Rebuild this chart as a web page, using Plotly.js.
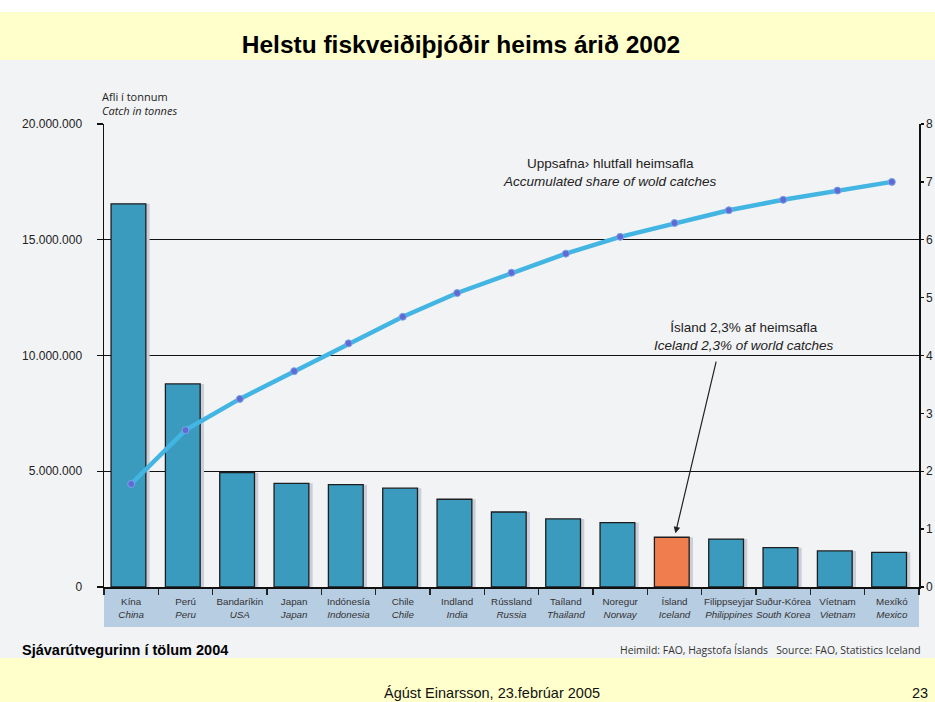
<!DOCTYPE html>
<html>
<head>
<meta charset="utf-8">
<script src="https://cdn.plot.ly/plotly-3.0.1.min.js"></script>
<style>
  html, body { margin: 0; padding: 0; background: #ffffff; }
  #chart { width: 935px; height: 702px; }
</style>
</head>
<body>
<div id="chart"></div>
<script>
// ---- data ----
const countriesIs = ["Kína","Perú","Bandaríkin","Japan","Indónesía","Chile","Indland","Rússland","Taíland","Noregur","Ísland","Filippseyjar","Suður-Kórea","Víetnam","Mexíkó"];
const countriesEn = ["China","Peru","USA","Japan","Indonesia","Chile","India","Russia","Thailand","Norway","Iceland","Philippines","South Korea","Vietnam","Mexico"];
const catchTonnes = [16550000, 8770000, 4940000, 4480000, 4420000, 4270000, 3790000, 3240000, 2940000, 2780000, 2150000, 2070000, 1700000, 1560000, 1500000];
const cumulativeShare = [17.8, 27.1, 32.5, 37.3, 42.1, 46.7, 50.8, 54.3, 57.6, 60.5, 62.9, 65.1, 66.9, 68.5, 70.0];
const leftTickVals = [0, 5000000, 10000000, 15000000, 20000000];
const leftTickText = ["0", "5.000.000", "10.000.000", "15.000.000", "20.000.000"];
const rightTickVals = [0, 10, 20, 30, 40, 50, 60, 70, 80];
const rightTickText = ["0", "1", "2", "3", "4", "5", "6", "7", "8"];
const highlight = "Iceland";

// ---- layout helpers (pixel -> paper) ----
const L = 104, R = 919, T = 124, B = 587;
const PX = p => (p - L) / (R - L);
const PY = p => (B - p) / (B - T);

const barColor = "#3a9bbf";
const hiColor = "#f07d4e";
const colors = countriesEn.map(c => c === highlight ? hiColor : barColor);
const tickText = countriesIs.map((c, i) => c + "<br><i>" + countriesEn[i] + "</i>");
const arial = "'Liberation Sans', Arial, sans-serif";
const frut = "'Open Sans', 'DejaVu Sans', sans-serif";

const shadow = {
  type: "bar", x: countriesEn, y: catchTonnes,
  width: 0.64, offset: -0.30,
  marker: { color: "#c9ced8", line: { width: 0 } },
  hoverinfo: "skip", showlegend: false
};
const bars = {
  type: "bar", x: countriesEn, y: catchTonnes,
  width: 0.64, offset: -0.37,
  marker: { color: colors, line: { color: "#1e1e1e", width: 1.3 } },
  name: "Afli", showlegend: false
};
const line = {
  type: "scatter", mode: "lines+markers", x: countriesEn, y: cumulativeShare,
  yaxis: "y2",
  line: { color: "#43b5e3", width: 4.5 },
  marker: { color: "#5f6ad2", size: 7, line: { color: "#7aa6e8", width: 1 } },
  name: "Uppsafnað", showlegend: false
};

const shapes = [
  { type: "rect", xref: "paper", yref: "paper", x0: PX(0), x1: PX(935), y0: PY(658), y1: PY(60), fillcolor: "#f2f3f5", line: { width: 0 }, layer: "below" },
  { type: "rect", xref: "paper", yref: "paper", x0: PX(0), x1: PX(935), y0: PY(60), y1: PY(12), fillcolor: "#ffffcc", line: { width: 0 }, layer: "below" },
  { type: "rect", xref: "paper", yref: "paper", x0: PX(0), x1: PX(935), y0: PY(702), y1: PY(658), fillcolor: "#ffffcc", line: { width: 0 }, layer: "below" },
  { type: "rect", xref: "paper", yref: "paper", x0: PX(104), x1: PX(919), y0: PY(627), y1: PY(589), fillcolor: "#b7cde2", line: { width: 0 }, layer: "below" }
];

const annotations = [
  { xref: "paper", yref: "paper", x: PX(100), y: PY(104), xanchor: "left", yanchor: "middle", align: "left",
    text: "Afli í tonnum<br><i>Catch in tonnes</i>", showarrow: false, font: { family: frut, size: 11, color: "#222" } },
  { xref: "paper", yref: "paper", x: PX(610), y: PY(173), xanchor: "center", yanchor: "middle", align: "center",
    text: "Uppsafna› hlutfall heimsafla<br><i>Accumulated share of wold catches</i>", showarrow: false, font: { family: arial, size: 13.5, color: "#222" } },
  { xref: "paper", yref: "paper", x: PX(744), y: PY(336), xanchor: "center", yanchor: "middle", align: "center",
    text: "Ísland 2,3% af heimsafla<br><i>Iceland 2,3% of world catches</i>", showarrow: false, font: { family: arial, size: 13.5, color: "#222" } },
  { xref: "x", yref: "y", x: highlight, y: catchTonnes[countriesEn.indexOf(highlight)], text: "", showarrow: true,
    arrowhead: 2, arrowsize: 1.1, arrowwidth: 1.2, arrowcolor: "#222", ax: 42, ay: -177, standoff: 4 },
  { xref: "paper", yref: "paper", x: PX(20), y: PY(650), xanchor: "left", yanchor: "middle",
    text: "<b>Sjávarútvegurinn í tölum 2004</b>", showarrow: false, font: { family: arial, size: 14.5, color: "#000" } },
  { xref: "paper", yref: "paper", x: PX(923), y: PY(650), xanchor: "right", yanchor: "middle",
    text: "Heimild: FAO, Hagstofa Íslands&nbsp;&nbsp;&nbsp;Source: FAO, Statistics Iceland", showarrow: false, font: { family: frut, size: 10.4, color: "#333" } },
  { xref: "paper", yref: "paper", x: PX(492), y: PY(693), xanchor: "center", yanchor: "middle",
    text: "Ágúst Einarsson, 23.febrúar 2005", showarrow: false, font: { family: arial, size: 14.5, color: "#111" } },
  { xref: "paper", yref: "paper", x: PX(930), y: PY(693), xanchor: "right", yanchor: "middle",
    text: "23", showarrow: false, font: { family: arial, size: 14.5, color: "#111" } }
];

const layout = {
  width: 935, height: 702,
  margin: { l: L, r: 935 - R, t: T, b: 702 - B, pad: 0 },
  paper_bgcolor: "#ffffff",
  plot_bgcolor: "rgba(0,0,0,0)",
  barmode: "overlay",
  title: { text: "<b>Helstu fiskveiðiþjóðir heims árið 2002</b>", xref: "paper", x: PX(461), xanchor: "center",
           yref: "container", y: 1 - 44 / 702, yanchor: "middle",
           font: { family: arial, size: 24.5, color: "#000" } },
  xaxis: {
    type: "category", tickvals: countriesEn, ticktext: tickText, tickangle: 0,
    tickson: "boundaries", ticks: "outside", ticklen: 6, tickwidth: 1.5, tickcolor: "#222",
    showline: true, linecolor: "#111", linewidth: 1.5, showgrid: false, zeroline: false,
    tickfont: { family: arial, size: 9.8, color: "#333" }, ticklabelstandoff: 5,
    range: [-0.5, countriesEn.length - 0.5], fixedrange: true
  },
  yaxis: {
    range: [0, 20000000], tickvals: leftTickVals, ticktext: leftTickText,
    ticks: "outside", ticklen: 6, tickwidth: 1.3, tickcolor: "#111",
    showline: true, linecolor: "#111", linewidth: 1.5,
    showgrid: true, gridcolor: "#111", gridwidth: 1.3, zeroline: false,
    tickfont: { family: arial, size: 12, color: "#222" }, ticklabelstandoff: 12, fixedrange: true
  },
  yaxis2: {
    overlaying: "y", side: "right", range: [0, 80],
    tickvals: rightTickVals, ticktext: rightTickText,
    ticks: "outside", ticklen: 3, tickwidth: 1.3, tickcolor: "#111",
    showline: true, linecolor: "#111", linewidth: 1.5,
    showgrid: false, zeroline: false,
    tickfont: { family: arial, size: 12, color: "#222" }, fixedrange: true
  },
  shapes: shapes,
  annotations: annotations,
  showlegend: false
};

Plotly.newPlot("chart", [shadow, bars, line], layout, { displayModeBar: false, staticPlot: true });
</script>
</body>
</html>
